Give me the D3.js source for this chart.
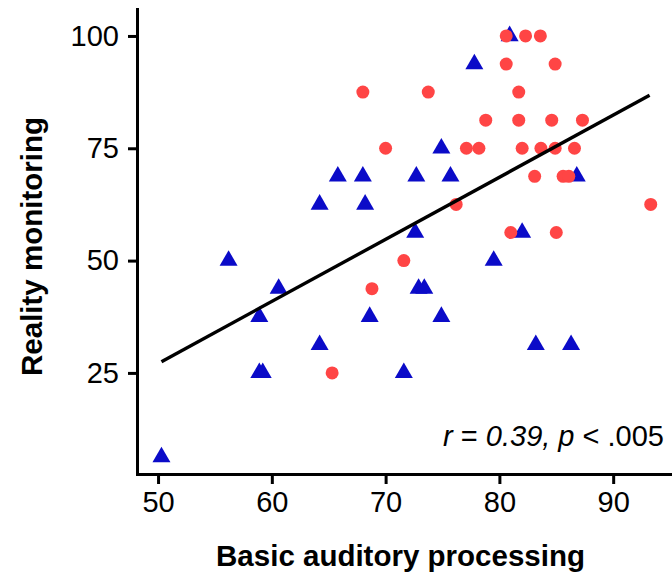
<!DOCTYPE html>
<html>
<head>
<meta charset="utf-8">
<script src="https://cdn.jsdelivr.net/npm/d3@7"></script>
<style>
  html, body { margin: 0; padding: 0; background: #fff; }
  svg { display: block; font-family: "Liberation Sans", Arial, Helvetica, sans-serif; }
</style>
</head>
<body>
<svg id="chart" width="672" height="575"></svg>
<script>
// ---- data ----
const blueX = [50.3, 56.2, 58.9, 58.9, 59.2, 60.6, 64.2, 64.2, 65.8, 68.0, 68.2, 68.6, 71.6, 72.6,
               72.7, 72.9, 73.4, 74.9, 74.9, 75.7, 77.8, 79.5, 80.9, 82.0, 83.2, 86.3, 86.8];
const blueY = [6.25, 50, 37.5, 25, 25, 43.75, 62.5, 31.25, 68.75, 68.75, 62.5, 37.5, 25, 56.25,
               68.75, 43.75, 43.75, 75, 37.5, 68.75, 93.75, 50, 100, 56.25, 31.25, 31.25, 68.75];
const redX = [65.3, 68.0, 68.8, 70.0, 71.6, 73.75, 76.2, 77.1, 78.2, 78.8, 80.6, 80.6, 81.0, 81.7,
              81.7, 82.0, 82.3, 83.1, 83.6, 83.65, 84.6, 84.9, 84.9, 85.0, 85.6, 86.1, 86.6, 87.3, 93.3];
const redY = [25, 87.5, 43.75, 75, 50, 87.5, 62.5, 75, 75, 81.25, 100, 93.75, 56.25, 87.5,
              81.25, 75, 100, 68.75, 100, 75, 81.25, 93.75, 75, 56.25, 68.75, 68.75, 75, 81.25, 62.5];
const fitX = [50.3, 93.2];
const fitY = [27.5, 86.8];
const xTicks = [50, 60, 70, 80, 90];
const yTicks = [25, 50, 75, 100];
const xTitle = "Basic auditory processing";
const yTitle = "Reality monitoring";

(function () {
  const svg = d3.select("#chart");
  const pL = 137, pR = 672, pT = 9, pB = 474;

  const x = d3.scaleLinear().domain([48.15, 95.17]).range([pL, pR]);
  const y = d3.scaleLinear().domain([2.5, 106]).range([pB, pT]);

  const xAxis = d3.axisBottom(x).tickValues(xTicks).tickSizeInner(10).tickSizeOuter(0).tickPadding(7);
  const yAxis = d3.axisLeft(y).tickValues(yTicks).tickSizeInner(9).tickSizeOuter(0).tickPadding(9);

  const gx = svg.append("g").attr("transform", `translate(0,${pB})`).call(xAxis);
  const gy = svg.append("g").attr("transform", `translate(${pL},0)`).call(yAxis);

  [gx, gy].forEach(g => {
    g.select(".domain").attr("stroke", "#000").attr("stroke-width", 3).attr("stroke-linecap", "square");
    g.selectAll(".tick line").attr("stroke", "#000").attr("stroke-width", 3);
    g.selectAll(".tick text").attr("fill", "#000").style("font-size", "29px")
      .style("font-family", "'Liberation Sans', Arial, sans-serif");
  });

  const blue = blueX.map((v, i) => ({x: v, y: blueY[i]}));
  const red = redX.map((v, i) => ({x: v, y: redY[i]}));

  svg.append("g").selectAll("path").data(blue).join("path")
    .attr("d", d3.symbol().type(d3.symbolTriangle).size(140))
    .attr("transform", d => `translate(${x(d.x)},${y(d.y)})`)
    .attr("fill", "#0b0bc8");

  svg.append("g").selectAll("circle").data(red).join("circle")
    .attr("cx", d => x(d.x)).attr("cy", d => y(d.y)).attr("r", 6.5)
    .attr("fill", "#ff4545");

  svg.append("path")
    .datum(fitX.map((v, i) => [v, fitY[i]]))
    .attr("d", d3.line().x(d => x(d[0])).y(d => y(d[1])))
    .attr("stroke", "#000").attr("stroke-width", 3.4).attr("fill", "none");

  const ann = svg.append("text")
    .attr("x", 664).attr("y", 446).attr("text-anchor", "end")
    .style("font-size", "29px").attr("fill", "#000");
  ann.append("tspan").style("font-style", "italic").text("r");
  ann.append("tspan").text(" = ");
  ann.append("tspan").style("font-style", "italic").text("0.39, p");
  ann.append("tspan").text(" < .005");

  svg.append("text")
    .attr("x", (pL + pR) / 2 - 4).attr("y", 566)
    .attr("text-anchor", "middle")
    .style("font-size", "29.5px").style("font-weight", "bold")
    .text(xTitle);

  svg.append("text")
    .attr("transform", `translate(42,${(pT + pB) / 2 + 5}) rotate(-90)`)
    .attr("text-anchor", "middle")
    .style("font-size", "29.5px").style("font-weight", "bold")
    .text(yTitle);
})();
</script>
</body>
</html>
